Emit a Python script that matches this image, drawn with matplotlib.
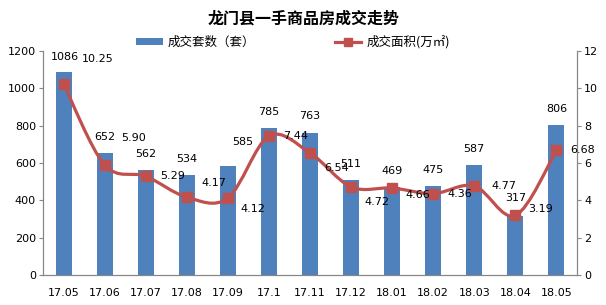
import matplotlib
matplotlib.use('Agg')
import matplotlib.pyplot as plt
from matplotlib.path import Path
from matplotlib.patches import PathPatch
from matplotlib.lines import Line2D

months = ['17.05', '17.06', '17.07', '17.08', '17.09', '17.1', '17.11',
          '17.12', '18.01', '18.02', '18.03', '18.04', '18.05']
units = [1086, 652, 562, 534, 585, 785, 763, 511, 469, 475, 587, 317, 806]
area = [10.25, 5.90, 5.29, 4.17, 4.12, 7.44, 6.54, 4.72, 4.66, 4.36, 4.77, 3.19, 6.68]

# label offsets in pixels (dx, dy), picked to look like the original
unit_off = [(1, 15), (0, 16), (0, 16), (0, 16), (15, 24), (0, 16), (0, 17),
            (0, 16), (0, 16), (0, 16), (0, 16), (0, 18), (0, 16)]
area_off = [(34, 25), (29, 27), (27, 0), (27, 14), (25, -11), (27, 0), (27, -15),
            (26, -15), (26, -7), (27, 0), (30, 0), (25, 6), (26, 0)]

BLUE = '#4F81BD'
RED = '#C0504D'
GREY = '#868686'
CJK = ['Noto Sans CJK SC', 'DejaVu Sans']


def smooth_path(xs, ys, t=1 / 6):
    # bezier curve through every point, like excel's smoothed line
    verts = [(xs[0], ys[0])]
    codes = [Path.MOVETO]
    n = len(xs)
    for i in range(n - 1):
        x0, y0 = xs[max(i - 1, 0)], ys[max(i - 1, 0)]
        x1, y1 = xs[i], ys[i]
        x2, y2 = xs[i + 1], ys[i + 1]
        x3, y3 = xs[min(i + 2, n - 1)], ys[min(i + 2, n - 1)]
        verts.append((x1 + (x2 - x0) * t, y1 + (y2 - y0) * t))
        verts.append((x2 - (x3 - x1) * t, y2 - (y3 - y1) * t))
        verts.append((x2, y2))
        codes += [Path.CURVE4] * 3
    return Path(verts, codes)


fig = plt.figure(figsize=(6.06, 3.05), dpi=100)
ax1 = fig.add_axes([43 / 606, 30 / 305, 534 / 606, 224 / 305])
ax2 = ax1.twinx()

x = list(range(len(months)))
bars = ax1.bar(x, units, width=0.39, color=BLUE, zorder=2)
ax1.set_xlim(-0.5, len(months) - 0.5)
ax1.set_ylim(0, 1200)
ax1.set_yticks(range(0, 1201, 200))
ax1.set_xticks(x)
ax1.set_xticklabels(months)

ax2.set_ylim(0, 12)
ax2.set_yticks(range(0, 13, 2))
ax2.add_patch(PathPatch(smooth_path(x, area), facecolor='none', edgecolor=RED,
                        lw=2.3, zorder=3))
ax2.plot(x, area, linestyle='none', marker='s', markersize=7, color=RED, zorder=4)

for ax in (ax1, ax2):
    ax.spines['top'].set_visible(False)
    for s in ('left', 'right', 'bottom'):
        ax.spines[s].set_color(GREY)
    ax.tick_params(axis='y', length=3, color=GREY, pad=2, labelsize=8)
    ax.tick_params(axis='x', length=0, pad=9, labelsize=8)

for i, v in enumerate(units):
    ax1.annotate(str(v), (x[i], v), xytext=unit_off[i], textcoords='offset pixels',
                 ha='center', va='center', fontsize=8, zorder=5)
for i, v in enumerate(area):
    ax2.annotate('%.2f' % v, (x[i], v), xytext=area_off[i], textcoords='offset pixels',
                 ha='center', va='center', fontsize=8, zorder=5)

fig.text(304 / 606, 1 - 19 / 305, '龙门县一手商品房成交走势', ha='center', va='center',
         fontsize=11.5, fontweight='bold', family=CJK)

handles = [bars, Line2D([], [], color=RED, lw=2.3, marker='s', markersize=6)]
fig.legend(handles, ['成交套数（套）', '成交面积(万㎡)'], loc='center',
           bbox_to_anchor=(293 / 606, 1 - 42 / 305), ncol=2, frameon=False,
           prop={'family': CJK, 'size': 9}, handlelength=2.1, handleheight=0.45,
           handletextpad=0.4, columnspacing=6.4, borderpad=0)

fig.savefig('out.png', dpi=100)
